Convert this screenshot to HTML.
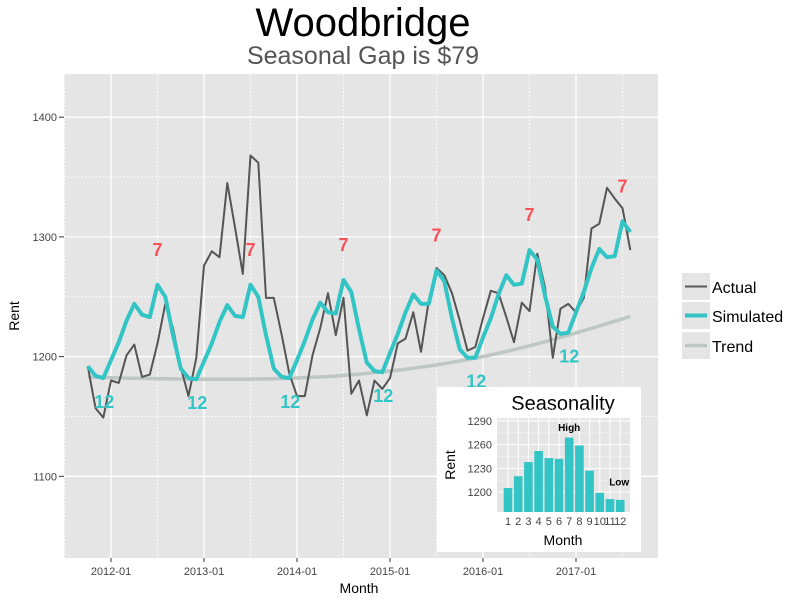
<!DOCTYPE html>
<html><head><meta charset="utf-8"><style>
body{margin:0;background:#fff;}
svg{display:block;font-family:"Liberation Sans",sans-serif;}
</style></head><body>
<svg id="chart" width="800" height="600" xmlns="http://www.w3.org/2000/svg">
<text x="363" y="36" font-size="40" text-anchor="middle" fill="#000">Woodbridge</text>
<text x="363" y="64" font-size="25" text-anchor="middle" fill="#555">Seasonal Gap is $79</text>
<rect x="64" y="74" width="594" height="484" fill="#e5e5e5"/>
<g id="grid"></g>
<g id="series"></g>
<g id="labels"></g>
<g id="axes"></g>
<text x="359" y="593" font-size="14" text-anchor="middle">Month</text>
<text transform="translate(19,316) rotate(-90)" font-size="14" text-anchor="middle">Rent</text>
<g>
<rect x="682" y="273" width="28" height="27" fill="#e5e5e5"/>
<line x1="685" x2="707" y1="286.5" y2="286.5" stroke="#555" stroke-width="2"/>
<text x="712" y="293" font-size="16">Actual</text>
<rect x="682" y="302" width="28" height="27" fill="#e5e5e5"/>
<line x1="685" x2="707" y1="315.5" y2="315.5" stroke="#33c5c5" stroke-width="4"/>
<text x="712" y="322" font-size="16">Simulated</text>
<rect x="682" y="332" width="28" height="27" fill="#e5e5e5"/>
<line x1="685" x2="707" y1="345.5" y2="345.5" stroke="#bfc7c5" stroke-width="3.5"/>
<text x="712" y="352" font-size="16">Trend</text>
</g>
<g id="inset">
<rect x="437" y="387" width="204" height="165" fill="#fff"/>
<text x="563" y="410" font-size="20" text-anchor="middle">Seasonality</text>
<rect x="497" y="418" width="133" height="94" fill="#e5e5e5"/>
<g id="insetGrid"></g><g id="insetBars"></g><g id="insetAxes"></g>
<text transform="translate(455,465) rotate(-90)" font-size="14" text-anchor="middle">Rent</text>
<text x="563" y="545" font-size="14" text-anchor="middle">Month</text>
</g>
</svg>
<script>
const months = 71; // Oct 2011 .. Aug 2017
const actual = [1192,1157,1149,1180,1178,1201,1210,1183,1185,1211,1244,1224,1191,1167,1199,1276,1288,1283,1345,1308,1269,1368,1362,1249,1249,1219,1186,1167,1167,1201,1224,1253,1218,1249,1169,1180,1151,1180,1173,1182,1211,1215,1237,1204,1247,1274,1268,1253,1230,1205,1208,1232,1255,1253,1233,1212,1245,1238,1286,1258,1199,1240,1244,1237,1249,1307,1311,1341,1332,1324,1289];
const simulated = [1192,1184,1182,1197,1212,1230,1244,1235,1233,1260,1250,1218,1190,1182,1181,1196,1211,1229,1243,1234,1233,1260,1250,1218,1190,1183,1182,1197,1213,1231,1245,1237,1236,1264,1254,1223,1195,1188,1187,1203,1219,1237,1252,1244,1244,1272,1263,1232,1206,1199,1199,1216,1232,1252,1268,1260,1261,1289,1281,1251,1225,1219,1220,1237,1254,1274,1290,1283,1284,1313,1304];
const trend = [1183,1182.8,1182.6,1182.4,1182.2,1182,1181.9,1181.8,1181.7,1181.6,1181.5,1181.4,1181.3,1181.2,1181.1,1181.1,1181.1,1181.1,1181.1,1181.1,1181.1,1181.2,1181.3,1181.4,1181.5,1181.7,1181.9,1182.1,1182.4,1182.7,1183,1183.4,1183.8,1184.3,1184.8,1185.4,1186,1186.6,1187.3,1188,1188.7,1189.5,1190.3,1191.2,1192.1,1193.1,1194.1,1195.2,1196.3,1197.5,1198.7,1200,1201.4,1202.8,1204.3,1205.8,1207.4,1209,1210.7,1212.4,1214.2,1216,1217.9,1219.8,1221.7,1223.6,1225.6,1227.6,1229.6,1231.6,1233.6];
const peakIdx = [9,21,33,45,57,69];
const lowIdx = [2,14,26,38,50,62];
const yTicks = [1100,1200,1300,1400];
const yMinor = [1150,1250,1350];
const xTickLabels = ["2012-01","2013-01","2014-01","2015-01","2016-01","2017-01"];
const xTickIdx = [3,15,27,39,51,63];
const seasonMonths = [1,2,3,4,5,6,7,8,9,10,11,12];
const seasonValues = [1205,1220,1238,1252,1243,1242,1269,1259,1227,1199,1191,1190];
const insetTicks = [1200,1230,1260,1290];

const NS="http://www.w3.org/2000/svg";
function mk(tag,attrs,parent,txt){const e=document.createElementNS(NS,tag);for(const k in attrs)e.setAttribute(k,attrs[k]);if(txt!==undefined)e.textContent=txt;parent.appendChild(e);return e;}
const X = i => 87.75 + i*7.75;
const Y = v => 356.6 - (v-1200)*1.197;
const grid=document.getElementById('grid'), series=document.getElementById('series'), labels=document.getElementById('labels'), axes=document.getElementById('axes');

yMinor.forEach(v=>{const l=mk('line',{x1:64,x2:658,y1:Y(v),y2:Y(v),stroke:'#fff','stroke-width':1,'stroke-dasharray':'1.5,2'},grid);

});
xTickIdx.forEach(i=>{const l=mk('line',{x1:X(i+6),x2:X(i+6),y1:74,y2:558,stroke:'#fff','stroke-width':1,'stroke-dasharray':'1.5,2'},grid);

});
mk('line',{x1:X(-3),x2:X(-3),y1:74,y2:558,stroke:'#fff','stroke-width':1,'stroke-dasharray':'1.5,2'},grid);
yTicks.forEach(v=>{const l=mk('line',{x1:64,x2:658,y1:Y(v),y2:Y(v),stroke:'#fff','stroke-width':1.3},grid);


const t=mk('text',{x:57,y:Y(v)+4,'font-size':11,'text-anchor':'end',fill:'#444'},axes,String(v));


mk('line',{x1:59,x2:64,y1:Y(v),y2:Y(v),stroke:'#333'},axes);});
xTickIdx.forEach((i,k)=>{const l=mk('line',{x1:X(i),x2:X(i),y1:74,y2:558,stroke:'#fff','stroke-width':1.3},grid);


mk('line',{x1:X(i),x2:X(i),y1:558,y2:562,stroke:'#333'},axes);
const t=mk('text',{x:X(i),y:575,'font-size':11,'text-anchor':'middle',fill:'#444'},axes,xTickLabels[k]);

});

function path(arr){return arr.map((v,i)=>(i?'L':'M')+X(i).toFixed(1)+','+Y(v).toFixed(1)).join('');}
const pt=mk('path',{d:path(trend),fill:'none',stroke:'#bfc7c5','stroke-width':3.5,'stroke-linejoin':'round'},series);


const pa=mk('path',{d:path(actual),fill:'none',stroke:'#555','stroke-width':2,'stroke-linejoin':'round'},series);


const ps=mk('path',{d:path(simulated),fill:'none',stroke:'#33c5c5','stroke-width':4,'stroke-linejoin':'round'},series);



peakIdx.forEach(i=>{const t=mk('text',{x:X(i),y:Y(simulated[i]+30)+7,'font-size':18,'font-weight':'bold','text-anchor':'middle',fill:'#f8525a'},labels,'7');

});
lowIdx.forEach(i=>{const t=mk('text',{x:X(i)+1,y:Y(simulated[i]-19)+7,'font-size':18,'font-weight':'bold','text-anchor':'middle',fill:'#33c5c5'},labels,'12');

});

// inset
const ig=document.getElementById('insetGrid'), ib=document.getElementById('insetBars'), ia=document.getElementById('insetAxes');
const IX = m => 508 + (m-1)*10.2;
const IY = v => 492 - (v-1200)*0.789;
insetTicks.forEach(v=>{mk('line',{x1:497,x2:630,y1:IY(v),y2:IY(v),stroke:'#fff','stroke-width':1},ig);
mk('line',{x1:497,x2:630,y1:IY(v+15),y2:IY(v+15),stroke:'#fff','stroke-width':0.7,'stroke-dasharray':'1,1.5'},ig);
const t=mk('text',{x:492,y:IY(v)+4,'font-size':11,'text-anchor':'end',fill:'#444'},ia,String(v));

});
seasonMonths.forEach((m,k)=>{mk('line',{x1:IX(m),x2:IX(m),y1:418,y2:512,stroke:'#fff','stroke-width':1},ig);
const b=mk('rect',{x:IX(m)-4.3,y:IY(seasonValues[k]),width:8.6,height:512-IY(seasonValues[k]),fill:'#33c5c5'},ib);


const t=mk('text',{x:IX(m),y:525,'font-size':11,'text-anchor':'middle',fill:'#444'},ia,String(m));

});
const hi=mk('text',{x:IX(7),y:IY(1290)+10,'font-size':10,'font-weight':'bold','text-anchor':'middle'},ia,'High');


const lo=mk('text',{x:IX(12)-1,y:IY(1208),'font-size':10,'font-weight':'bold','text-anchor':'middle'},ia,'Low');


</script>
</body></html>
